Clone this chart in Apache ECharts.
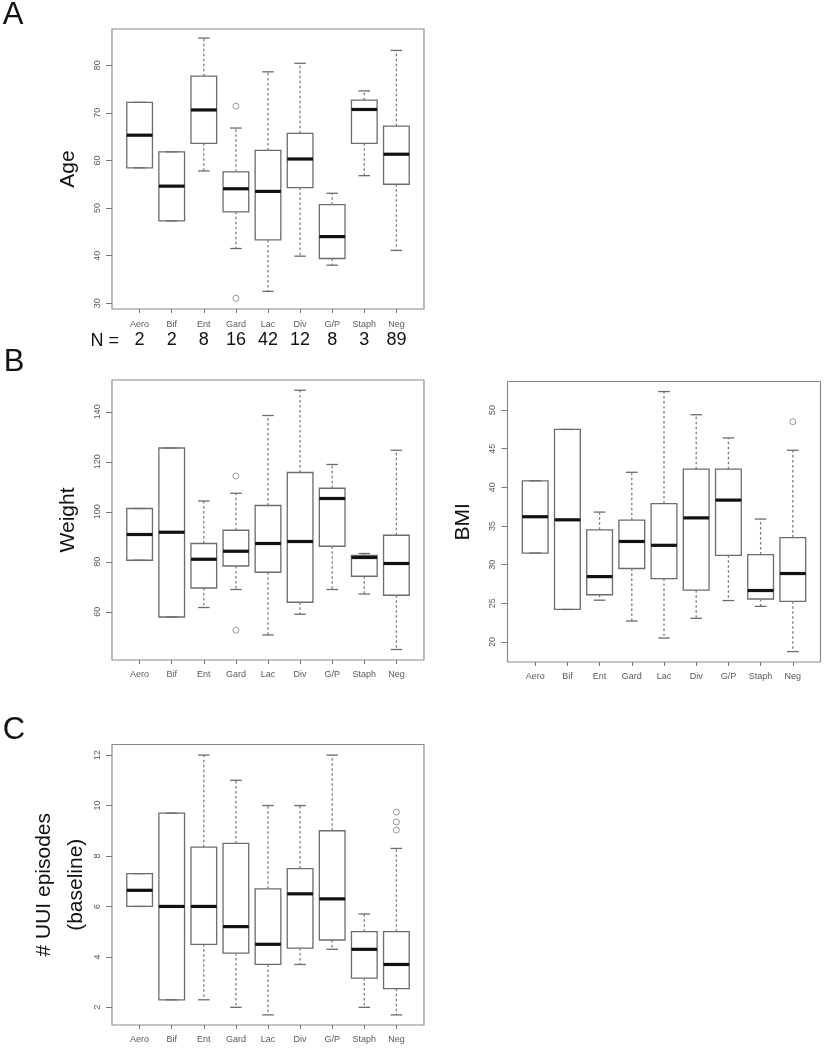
<!DOCTYPE html>
<html><head><meta charset="utf-8">
<script src="https://cdn.jsdelivr.net/npm/echarts@6/dist/echarts.min.js"></script>
<style>html,body{margin:0;padding:0;background:#fff}#chart{width:824px;height:1050px}</style>
</head><body><div id="chart"></div>
<script>
// ---------------- data ----------------
const categories = ['Aero', 'Bif', 'Ent', 'Gard', 'Lac', 'Div', 'G/P', 'Staph', 'Neg'];
const nCounts = [2, 2, 8, 16, 42, 12, 8, 3, 89];

// [lower whisker, Q1, median, Q3, upper whisker]
const ageStats = [
  [58.45, 58.45, 65.3, 72.2, 72.2],
  [47.3, 47.3, 54.6, 61.8, 61.8],
  [57.8, 63.6, 70.6, 77.7, 85.7],
  [41.5, 49.2, 54.05, 57.6, 66.8],
  [32.5, 43.3, 53.5, 62.1, 78.6],
  [39.9, 54.3, 60.3, 65.7, 80.4],
  [38.0, 39.4, 44.0, 50.7, 53.1],
  [56.8, 63.6, 70.7, 72.65, 74.6],
  [41.1, 55.0, 61.3, 67.2, 83.1]
];
const ageOutliers = [[4, 71.4], [4, 31.05]];
const ageTicks = [30, 40, 50, 60, 70, 80];

const weightStats = [
  [80.6, 80.6, 90.9, 101.3, 101.3],
  [57.9, 57.9, 91.8, 125.5, 125.5],
  [61.7, 69.5, 81.0, 87.3, 104.3],
  [68.9, 78.3, 84.2, 92.6, 107.4],
  [50.7, 75.8, 87.3, 102.5, 138.5],
  [59.0, 63.8, 88.1, 115.7, 148.6],
  [68.9, 86.2, 105.3, 109.4, 118.9],
  [67.1, 74.2, 81.7, 82.5, 83.3],
  [44.9, 66.6, 79.3, 90.6, 124.6]
];
const weightOutliers = [[4, 114.3], [4, 52.6]];
const weightTicks = [60, 80, 100, 120, 140];

const bmiStats = [
  [31.5, 31.5, 36.2, 40.85, 40.85],
  [24.2, 24.2, 35.8, 47.5, 47.5],
  [25.4, 26.1, 28.45, 34.5, 36.8],
  [22.7, 29.5, 33.0, 35.75, 41.95],
  [20.5, 28.2, 32.5, 37.9, 52.4],
  [23.05, 26.7, 36.05, 42.35, 49.4],
  [25.35, 31.2, 38.35, 42.35, 46.4],
  [24.6, 25.55, 26.65, 31.3, 35.9],
  [18.75, 25.25, 28.85, 33.5, 44.8]
];
const bmiOutliers = [[9, 48.5]];
const bmiTicks = [20, 25, 30, 35, 40, 45, 50];

const uuiStats = [
  [6.0, 6.0, 6.64, 7.3, 7.3],
  [2.3, 2.3, 6.0, 9.7, 9.7],
  [2.3, 4.5, 6.0, 8.35, 12.0],
  [2.0, 4.15, 5.2, 8.5, 11.0],
  [1.7, 3.7, 4.5, 6.7, 10.0],
  [3.7, 4.35, 6.5, 7.5, 10.0],
  [4.3, 4.67, 6.3, 9.0, 12.0],
  [2.0, 3.16, 4.3, 5.0, 5.7],
  [1.7, 2.74, 3.7, 5.0, 8.3]
];
const uuiOutliers = [[9, 9.03], [9, 9.35], [9, 9.74]];
const uuiTicks = [2, 4, 6, 8, 10, 12];

// ---------------- layout / style ----------------
const FONT = '"Liberation Sans", Arial, sans-serif';
const X_MIN = 0.14, X_MAX = 9.86;   // R: 0.5..9.5 extended by 4%
const BOXWEX = 0.8, STAPLE = 0.36;
const FRAME = '#8a8a8a', BOXC = '#6c6c6c', WHISK = '#7c7c7c', TICKC = '#777', LABC = '#5a5a5a';

const panels = [
  { name: 'Age', stats: ageStats, outliers: ageOutliers, ticks: ageTicks, range: [28.8, 87.6], rect: [112, 29, 312, 280], showN: true, gap: 28 },
  { name: 'Weight', stats: weightStats, outliers: weightOutliers, ticks: weightTicks, range: [40.7, 152.7], rect: [112, 380, 312, 280], gap: 28 },
  { name: 'BMI', stats: bmiStats, outliers: bmiOutliers, ticks: bmiTicks, range: [17.4, 53.7], rect: [507.5, 381.5, 313, 280.5], gap: 28 },
  { name: '# UUI episodes\n(baseline)', stats: uuiStats, outliers: uuiOutliers, ticks: uuiTicks, range: [1.3, 12.42], rect: [112, 744.5, 312, 280.5], gap: 17 }
];

function renderWhiskers(params, api) {
  const x = api.value(0);
  const lo = api.value(1), q1 = api.value(2), med = api.value(3), q3 = api.value(4), hi = api.value(5);
  const boxHalf = api.size([BOXWEX, 0])[0] / 2;
  const stHalf = api.size([STAPLE, 0])[0] / 2;
  const P = v => api.coord([x, v]);
  const pLo = P(lo), pQ1 = P(q1), pMed = P(med), pQ3 = P(q3), pHi = P(hi);
  const dash = { stroke: WHISK, lineWidth: 1.3, lineDash: [2.5, 2.5], fill: null };
  const solid = { stroke: BOXC, lineWidth: 1.3, fill: null };
  return {
    type: 'group',
    children: [
      { type: 'line', shape: { x1: pQ3[0], y1: pQ3[1], x2: pHi[0], y2: pHi[1] }, style: dash },
      { type: 'line', shape: { x1: pQ1[0], y1: pQ1[1], x2: pLo[0], y2: pLo[1] }, style: dash },
      { type: 'line', shape: { x1: pHi[0] - stHalf, y1: pHi[1], x2: pHi[0] + stHalf, y2: pHi[1] }, style: solid },
      { type: 'line', shape: { x1: pLo[0] - stHalf, y1: pLo[1], x2: pLo[0] + stHalf, y2: pLo[1] }, style: solid },
      { type: 'line', shape: { x1: pMed[0] - boxHalf, y1: pMed[1], x2: pMed[0] + boxHalf, y2: pMed[1] }, style: { stroke: '#111', lineWidth: 3.2 } }
    ]
  };
}

const grid = [], xAxis = [], yAxis = [], series = [];
const catPositions = categories.map((c, k) => k + 1);

panels.forEach((p, i) => {
  const [l, t, w, h] = p.rect;
  grid.push({ left: l, top: t, width: w, height: h, show: true, borderColor: FRAME, borderWidth: 1.2, backgroundColor: 'transparent' });
  const xLabel = {
    customValues: catPositions, margin: 10, color: LABC, fontSize: 9, fontFamily: FONT,
    formatter: v => {
      const k = Math.round(v) - 1;
      return p.showN ? '{c|' + categories[k] + '}\n{n|' + nCounts[k] + '}' : categories[k];
    }
  };
  if (p.showN) {
    xLabel.rich = {
      c: { fontSize: 9, color: LABC, fontFamily: FONT, lineHeight: 12 },
      n: { fontSize: 18, color: '#111', fontFamily: FONT, lineHeight: 19 }
    };
  }
  xAxis.push({
    gridIndex: i, type: 'value', min: X_MIN, max: X_MAX,
    axisLine: { show: false }, splitLine: { show: false },
    axisTick: { show: true, customValues: catPositions, length: 4, lineStyle: { color: TICKC, width: 1 } },
    axisLabel: xLabel
  });
  yAxis.push({
    gridIndex: i, type: 'value', min: p.range[0], max: p.range[1],
    name: p.name, nameLocation: 'middle', nameRotate: 90, nameGap: p.gap,
    nameTextStyle: { fontSize: 21, color: '#111', fontFamily: FONT, lineHeight: 32 },
    axisLine: { show: false }, splitLine: { show: false },
    axisTick: { show: true, customValues: p.ticks, length: 6, lineStyle: { color: TICKC, width: 1 } },
    axisLabel: { customValues: p.ticks, rotate: 90, fontSize: 9, color: LABC, fontFamily: FONT, margin: 10 }
  });
  const boxPx = BOXWEX * w / (X_MAX - X_MIN);
  series.push({
    type: 'boxplot', xAxisIndex: i, yAxisIndex: i, silent: true, z: 2,
    boxWidth: [boxPx, boxPx],
    data: p.stats.map((s, k) => [k + 1, s[1], s[1], s[2], s[3], s[3]]),
    itemStyle: { color: '#fff', borderColor: BOXC, borderWidth: 1.3 }
  });
  series.push({
    type: 'custom', xAxisIndex: i, yAxisIndex: i, silent: true, z: 3,
    data: p.stats.map((s, k) => [k + 1].concat(s)),
    encode: { x: 0, y: [1, 2, 3, 4, 5] },
    renderItem: renderWhiskers
  });
  series.push({
    type: 'scatter', xAxisIndex: i, yAxisIndex: i, silent: true, z: 4,
    data: p.outliers,
    symbol: 'circle', symbolSize: 6,
    itemStyle: { color: 'rgba(255,255,255,0)', borderColor: '#808080', borderWidth: 1 }
  });
});

const chart = echarts.init(document.getElementById('chart'), null, { renderer: 'canvas' });
chart.setOption({
  backgroundColor: '#fff',
  animation: false,
  grid, xAxis, yAxis, series,
  graphic: [
    { type: 'text', x: 13, y: 15, style: { text: 'A', fontSize: 31, fontFamily: FONT, fill: '#111', align: 'center', verticalAlign: 'middle' } },
    { type: 'text', x: 14, y: 362, style: { text: 'B', fontSize: 31, fontFamily: FONT, fill: '#111', align: 'center', verticalAlign: 'middle' } },
    { type: 'text', x: 14, y: 730, style: { text: 'C', fontSize: 31, fontFamily: FONT, fill: '#111', align: 'center', verticalAlign: 'middle' } },
    { type: 'text', x: 119, y: 341, style: { text: 'N =', fontSize: 18, fontFamily: FONT, fill: '#111', align: 'right', verticalAlign: 'middle' } }
  ]
});
</script>
</body></html>
